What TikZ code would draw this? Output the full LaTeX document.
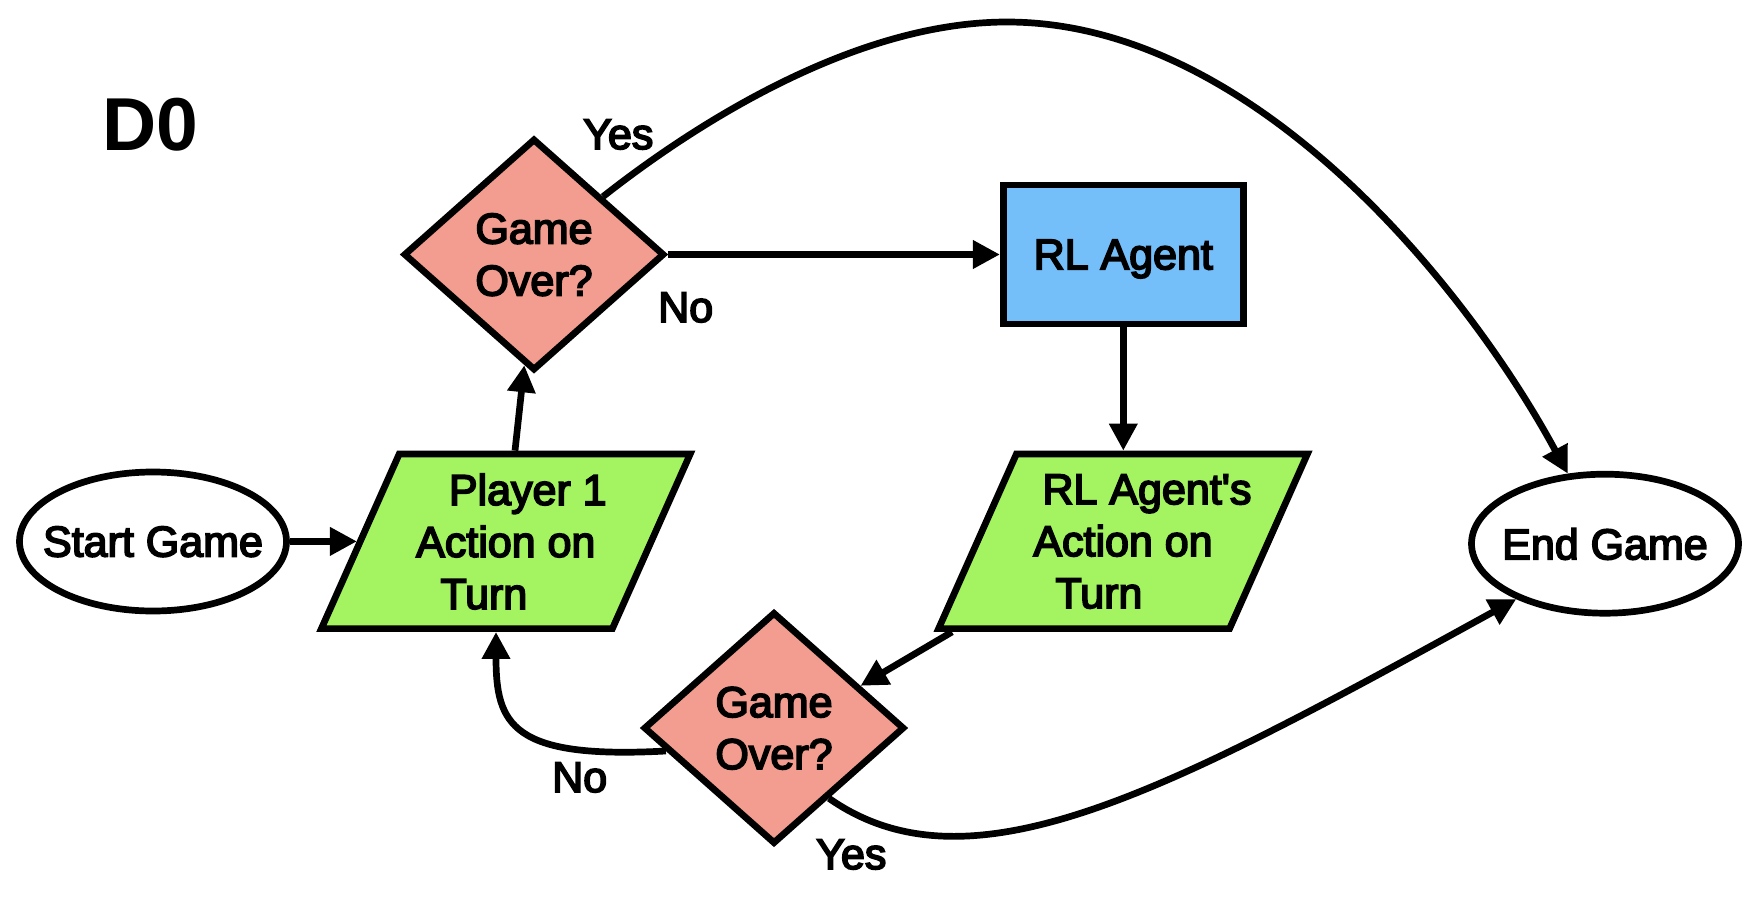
\documentclass[tikz,border=0pt]{standalone}
\usepackage{fontspec}
\setmainfont{Liberation Sans}
\newfontfamily\medfont[RawFeature={embolden=4}]{Liberation Sans}
\usetikzlibrary{shapes.geometric,arrows.meta,backgrounds}
\definecolor{dsalmon}{HTML}{F29D8F}
\definecolor{rlblue}{HTML}{74BEFA}
\definecolor{iogreen}{HTML}{A3F460}
\begin{document}
\begin{tikzpicture}[x=1pt,y=-1pt,
  base/.style={line width=6.7pt, draw=black, font=\medfont\fontsize{43}{52}\selectfont,
    inner sep=0pt, align=center, text depth=0pt},
  term/.style={base, ellipse, fill=white, minimum width=267pt, minimum height=139pt},
  decision/.style={base, diamond, fill=dsalmon, minimum width=261pt, minimum height=232pt},
  process/.style={base, rectangle, fill=rlblue, minimum width=240pt, minimum height=139pt},
  io/.style={base, draw=none, rectangle, minimum width=291pt, minimum height=174.6pt},
  iobox/.style={draw=black, line width=6.7pt, fill=iogreen},
  conn/.style={line width=6.7pt, -{Triangle[length=27pt,width=27pt]}},
  lbl/.style={font=\medfont\fontsize{43}{50}\selectfont, inner sep=0pt, anchor=base west}]
\useasboundingbox (0,0) rectangle (1757,900);

\node[font=\bfseries\fontsize{75}{80}\selectfont, inner sep=0pt, anchor=base west] (title) at (102,150) {D0};

\node[term] (start) at (153,541.5) {\makebox[0pt]{Start Game}};
\node[io] (p1) at (505.8,541.3) {\makebox[0pt]{\kern44pt Player 1}\\\makebox[0pt]{Action on}\\\makebox[0pt]{Turn\kern44pt}};
\node[decision] (d1) at (534,254.5) {Game\\Over?};
\node[process] (rl) at (1123.3,254.5) {RL Agent};
\node[io] (rla) at (1123,541.3) {\makebox[0pt]{\kern48pt RL Agent's}\\\makebox[0pt]{Action on}\\\makebox[0pt]{Turn\kern48pt}};
\node[decision] (d2) at (774,728) {Game\\Over?};
\node[term] (eg) at (1605,543.7) {\makebox[0pt]{End Game}};

\begin{scope}[on background layer]
  \foreach \n in {p1,rla}{
    \draw[iobox] ([shift={(-106.6,-87.3)}]\n.center) -- ([shift={(184.4,-87.3)}]\n.center)
      -- ([shift={(106.6,87.3)}]\n.center) -- ([shift={(-184.4,87.3)}]\n.center) -- cycle;
  }
\end{scope}

\node[lbl] (yes1) at (583,149) {Yes};
\node[lbl] (no1) at (658,322) {No};
\node[lbl] (no2) at (552,792) {No};
\node[lbl] (yes2) at (816,869) {Yes};

\draw[conn] (start) -- (p1);
\draw[conn] (p1.north -| 515,0) -- (d1.265);
\draw[conn] (d1.east) -- (rl.west);
\draw[conn] (rl.south) -- (rl.south |- rla.north);
\draw[conn] (rla.south -| 952,0) -- (d2.26);
\draw[conn] (d2.192) .. controls (511,759.5) and (496,724) .. (p1.south -| 496,0);
\draw[conn] (d2.308) .. controls (970,897) and (1165,792.6) .. (eg.212);
\draw[conn] (d1.40) .. controls (699,121) and (857,22) .. (1007,22)
  .. controls (1257,22) and (1471,294) .. (eg.118);
\end{tikzpicture}
\end{document}
